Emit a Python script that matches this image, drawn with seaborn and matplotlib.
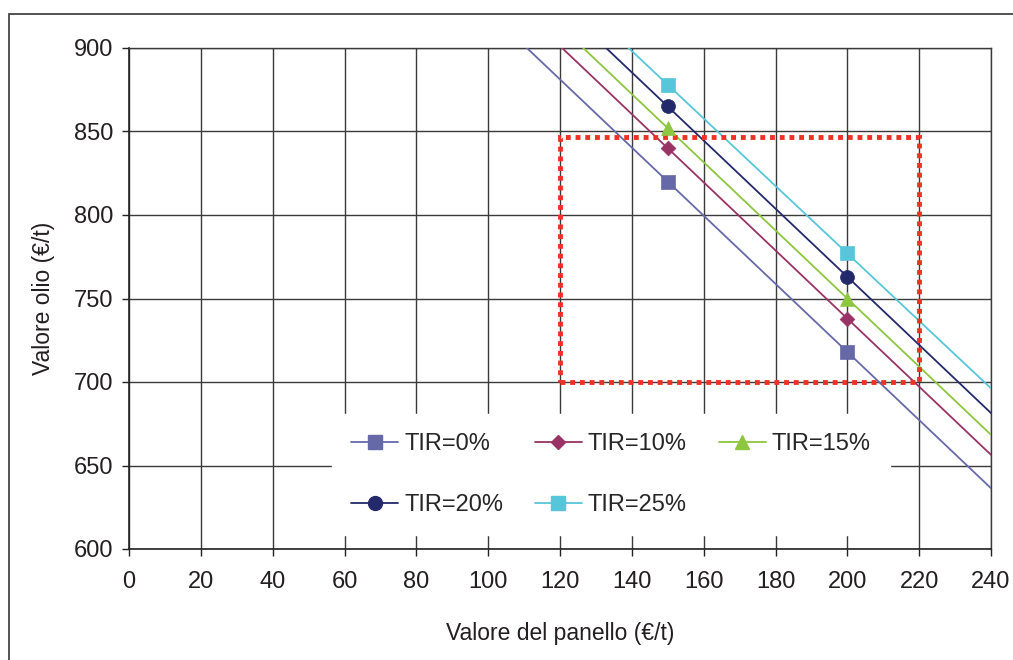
import numpy as np
import pandas as pd
import matplotlib
matplotlib.use("Agg")
import matplotlib.pyplot as plt
from matplotlib.lines import Line2D
from matplotlib.patches import Rectangle
import seaborn as sns

# Valore del panello (€/t) at which each scenario was computed
panel_values = [150, 200]

# Valore olio (€/t) for each internal rate of return (TIR)
tir_labels = ["TIR=0%", "TIR=10%", "TIR=15%", "TIR=20%", "TIR=25%"]
oil_tir0 = [820, 718]
oil_tir10 = [840, 738]
oil_tir15 = [852, 750]
oil_tir20 = [865, 763]
oil_tir25 = [878, 777]

# Region of interest (panel range, oil range)
roi_panel = [120, 220]
roi_oil = [700, 847]

x_ticks = list(range(0, 241, 20))
y_ticks = list(range(600, 901, 50))

colors = ["#6669A8", "#993366", "#8DC63F", "#23296B", "#57C6DA"]
markers = ["s", "D", "^", "o", "s"]
msizes = [10, 7.5, 10, 10, 10]

sns.set_theme(style="white")
plt.rcParams["font.family"] = ["Liberation Sans", "DejaVu Sans"]

fig = plt.figure(figsize=(10.13, 6.60), dpi=100)
ax = fig.add_axes([129 / 1013, 1 - 549 / 660, (991 - 129) / 1013, (549 - 48) / 660])
ax.set_xlim(0, 240)
ax.set_ylim(600, 900)

series = [oil_tir0, oil_tir10, oil_tir15, oil_tir20, oil_tir25]
df = pd.DataFrame({"panello": panel_values * len(series),
                   "olio": sum(series, []),
                   "tir": [lab for lab in tir_labels for _ in panel_values]})

handles = []
for lab, col, mk, ms in zip(tir_labels, colors, markers, msizes):
    sub = df[df["tir"] == lab]
    sns.regplot(data=sub, x="panello", y="olio", ax=ax, ci=None, truncate=False,
                color=col, marker=mk,
                scatter_kws=dict(s=ms ** 2, zorder=5, edgecolors=col, linewidths=0.5, alpha=1),
                line_kws=dict(lw=1.3, zorder=3))
    handles.append(Line2D([], [], color=col, lw=1.3, marker=mk, markersize=ms))

ax.set_xlim(0, 240)
ax.set_ylim(600, 900)
ax.set_xticks(x_ticks)
ax.set_yticks(y_ticks)
ax.grid(True, color="#3a3a3a", lw=1.0)
ax.set_axisbelow(True)
for side in ["left", "bottom"]:
    ax.spines[side].set_color("#222222")
    ax.spines[side].set_linewidth(1.2)
for side in ["top", "right"]:
    ax.spines[side].set_color("#3a3a3a")
    ax.spines[side].set_linewidth(1.0)
ax.tick_params(axis="both", which="major", labelsize=17, length=5, width=1.0,
               color="#222222", direction="out", labelcolor="#231f20",
               bottom=True, left=True)
ax.tick_params(axis="x", pad=11)
ax.tick_params(axis="y", pad=6)
ax.set_xlabel("Valore del panello (€/t)", fontsize=16.5, color="#231f20", labelpad=21)
ax.set_ylabel("Valore olio (€/t)", fontsize=16.5, color="#231f20", labelpad=14)

# Dotted region of interest
roi = Rectangle((roi_panel[0], roi_oil[0]), roi_panel[1] - roi_panel[0],
                roi_oil[1] - roi_oil[0], fill=False, edgecolor="#EE3124",
                lw=3.5, linestyle=(0, (1, 1)), zorder=4)
ax.add_patch(roi)

order = [0, 3, 1, 4, 2]
leg = ax.legend([handles[i] for i in order], [tir_labels[i] for i in order],
                ncol=3, loc="lower left", bbox_to_anchor=(0.2355, 0.028, 0.647, 0.25),
                mode="expand", frameon=True, fontsize=17, handlelength=2.0,
                borderpad=0.8, labelspacing=1.65, columnspacing=0.8,
                handletextpad=0.25, borderaxespad=0, fancybox=False)
leg.get_frame().set_edgecolor("white")
leg.get_frame().set_facecolor("white")
leg.get_frame().set_alpha(1)
leg.set_zorder(6)

# Outer frame of the figure
frame = Rectangle((9 / 1013, -0.05), 1.2, 1 - 14 / 660 + 0.05, transform=fig.transFigure,
                  fill=False, edgecolor="#444444", lw=1.3)
fig.patches.append(frame)

fig.savefig("out.png", dpi=100)
